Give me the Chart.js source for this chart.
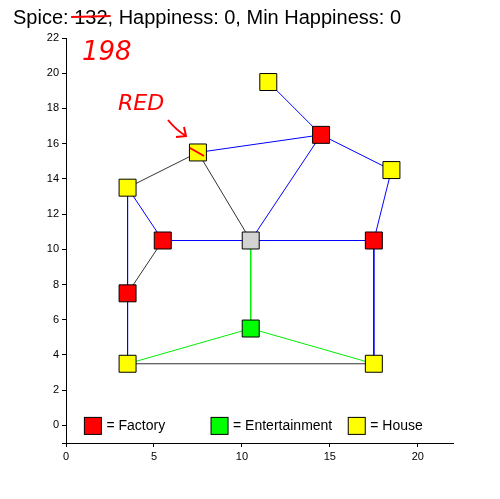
<!DOCTYPE html>
<html><head><script src="https://cdn.jsdelivr.net/npm/chart.js@4"></script>
<style>body{margin:0;background:#fff}</style></head>
<body><canvas id="c" width="500" height="499"></canvas>
<script>
// nodes: name, x, y, colour
const nodeNames = ["A","B","C","D","E","F","G","H","I","J","K","L"];
const nodeX = [7.5,14.5,11.5,18.5,3.5,5.5,10.5,17.5,3.5,10.5,3.5,17.5];
const nodeY = [15.5,16.5,19.5,14.5,13.5,10.5,10.5,10.5,7.5,5.5,3.5,3.5];
const nodeColors = ["#ffff00","#ff0000","#ffff00","#ffff00","#ffff00","#ff0000","#d3d3d3","#ff0000","#ff0000","#00ff00","#ffff00","#ffff00"];
const blueEdges = [["C","B"],["B","D"],["D","H"],["A","B"],["B","G"],["E","F"],["F","G"],["G","H"],["E","K"],["H","L"]];
const darkEdges = [["E","A"],["A","G"],["F","I"],["K","L"]];
const greenEdges = [["G","J"],["K","J"],["J","L"]];
const xTicks = [0,5,10,15,20];
const legendItems = [["= Factory","#ff0000",1.5],["= Entertainment","#00ff00",8.7],["= House","#ffff00",16.5]];

const pt = n => { const i = nodeNames.indexOf(n); return {x: nodeX[i], y: nodeY[i]}; };
const edgeSets = (edges, color) => edges.map(e => ({
  data: [pt(e[0]), pt(e[1])], showLine: true, borderColor: color, borderWidth: 1, pointRadius: 0, order: 2
}));

const overlay = {
  id: "overlay",
  afterDraw(chart) {
    const c = chart.ctx, xs = chart.scales.x, ys = chart.scales.y;
    c.save();
    c.font = "20px Arial, 'Liberation Sans'";
    c.fillStyle = "#000"; c.textBaseline = "alphabetic";
    const t1 = "Spice: ", t2 = "132", t3 = ", Happiness: 0, Min Happiness: 0";
    let x = 13;
    c.fillText(t1, x, 24); x += c.measureText(t1).width;
    const w2 = c.measureText(t2).width;
    c.fillText(t2, x, 24);
    c.strokeStyle = "#ff0000"; c.lineWidth = 2;
    c.beginPath(); c.moveTo(x - 3, 17); c.lineTo(x + w2 + 3, 16); c.stroke();
    c.fillText(t3, x + w2, 24);
    c.fillStyle = "#ff0000";
    c.font = "italic 26px 'DejaVu Sans'";
    c.fillText("198", 82, 60);
    c.font = "italic 22px 'DejaVu Sans'";
    c.fillText("RED", 118, 110);
    c.lineWidth = 2;
    c.beginPath(); c.moveTo(168, 120); c.quadraticCurveTo(176, 130, 186, 136);
    c.moveTo(176, 137); c.lineTo(186, 136); c.lineTo(184, 127); c.stroke();
    c.beginPath(); c.moveTo(190, 148); c.lineTo(204, 156); c.stroke();
    // legend
    c.font = "14px Arial, 'Liberation Sans'"; c.textBaseline = "middle";
    legendItems.forEach(l => {
      const px = xs.getPixelForValue(l[2]), py = ys.getPixelForValue(0);
      c.fillStyle = l[1]; c.fillRect(px - 8, py - 8, 17, 17);
      c.strokeStyle = "#000"; c.lineWidth = 1; c.strokeRect(px - 8, py - 8, 17, 17);
      c.fillStyle = "#000"; c.fillText(l[0], px + 14, py + 1);
    });
    c.restore();
  }
};

new Chart(document.getElementById("c"), {
  type: "scatter",
  data: {
    datasets: [
      ...edgeSets(blueEdges, "#0000ff"),
      ...edgeSets(darkEdges, "#333333"),
      ...edgeSets(greenEdges, "#00ee00"),
      { data: nodeX.map((x, i) => ({x, y: nodeY[i]})), pointStyle: "rect", pointRadius: 12, order: 1,
        pointBackgroundColor: nodeColors, pointBorderColor: "#000", pointBorderWidth: 1 }
    ]
  },
  options: {
    responsive: false, animation: false,
    layout: { padding: { top: 38, right: 47 } },
    plugins: { legend: { display: false }, tooltip: { enabled: false } },
    scales: {
      x: { min: 0, max: 22, border: { color: "#000" },
           grid: { drawOnChartArea: false, tickLength: 4, color: "#000" },
           ticks: { color: "#000", font: { size: 11 } },
           afterBuildTicks: s => { s.ticks = xTicks.map(v => ({value: v})); },
           afterFit: s => { s.height = 56; } },
      y: { min: -1, max: 22, border: { color: "#000" },
           grid: { drawOnChartArea: false, tickLength: 4, color: "#000" },
           ticks: { stepSize: 2, color: "#000", font: { size: 11 }, callback: v => v % 2 === 0 ? v : "" },
           afterFit: s => { s.width = 66; } }
    }
  },
  plugins: [overlay]
});
</script></body></html>
